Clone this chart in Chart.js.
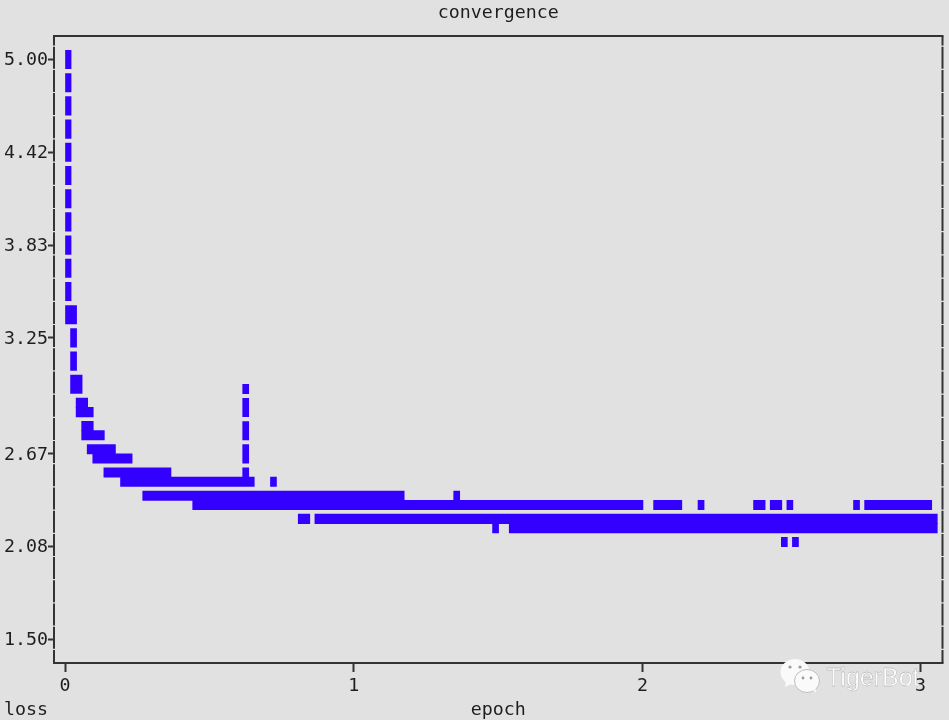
<!DOCTYPE html>
<html>
<head>
<meta charset="utf-8">
<title>convergence</title>
<script src="https://cdn.jsdelivr.net/npm/chart.js@4"></script>
<style>
    html, body { margin: 0; padding: 0; background: #e1e1e1; overflow: hidden; }
    #wrap { position: relative; width: 949px; height: 720px; }
    #mark { position: absolute; left: 778px; top: 656px; width: 160px; height: 40px; }
</style>
</head>
<body>
<div id="wrap">
    <canvas id="chart" width="949" height="720"></canvas>
    <svg id="mark" viewBox="0 0 160 40">
        <ellipse cx="17" cy="16" rx="14.5" ry="13" fill="#fafafa"/>
        <path d="M8 24 L7 31 L15 27 Z" fill="#fafafa"/>
        <ellipse cx="29" cy="25" rx="12.5" ry="11.5" fill="#fafafa" stroke="#bdbdbd" stroke-width="1"/>
        <path d="M34 33 L38 37 L37 30 Z" fill="#fafafa"/>
        <circle cx="12" cy="11" r="1.6" fill="#9a9a9a"/>
        <circle cx="22" cy="11" r="1.6" fill="#9a9a9a"/>
        <circle cx="25" cy="22" r="1.4" fill="#9a9a9a"/>
        <circle cx="33" cy="22" r="1.4" fill="#9a9a9a"/>
        <text x="48" y="30" font-family="'Liberation Sans', sans-serif" font-size="25" fill="#fdfdfd" stroke="#a0a0a0" stroke-width="0.3">TigerBot</text>
    </svg>
</div>
<script>
// tick rows of the text plot, labels are what the picture prints
const xTickValues = [0, 1, 2, 2.963];
const xTickLabels = ['0', '1', '2', '3'];
const yTickValues = [5, 4.44, 3.88, 3.32, 2.62, 2.06, 1.5];
const yTickLabels = ['5.00', '4.42', '3.83', '3.25', '2.67', '2.08', '1.50'];

// whole character cells
const fullLoss = [5, 4.86, 4.72, 4.58, 4.44, 4.3, 4.16, 4.02, 3.88, 3.74, 3.6, 3.46, 3.32, 3.18, 3.04, 2.9, 2.76, 2.62];
const fullStart = [0, 0, 0, 0, 0, 0, 0, 0, 0, 0, 0, 0, 0.0192, 0.0192, 0.0192, 0.6154, 0.6154, 0.6154];
const fullEnd = [0.021, 0.021, 0.021, 0.021, 0.021, 0.021, 0.021, 0.021, 0.021, 0.021, 0.021, 0.0401, 0.0401, 0.0401, 0.0593, 0.6362, 0.6362, 0.6362];

// half character cells
const halfLoss = [3.012, 2.928, 2.872, 2.788, 2.732, 2.648, 2.592, 2.508, 2.508, 2.452, 2.452,
    2.368, 2.368, 2.312, 2.312, 2.312, 2.312, 2.312, 2.312, 2.312, 2.312,
    2.228, 2.228, 2.172, 2.172, 2.088, 2.088];
const halfStart = [0.6154, 0.0385, 0.0385, 0.0577, 0.0577, 0.0769, 0.0962, 0.1346, 0.6154, 0.1923, 0.7115,
    0.2692, 1.3461, 0.4423, 2.0384, 2.1922, 2.3845, 2.4422, 2.4999, 2.7307, 2.7691,
    0.8077, 0.8654, 1.4807, 1.5384, 2.4807, 2.5191];
const halfEnd = [0.6362, 0.0785, 0.0978, 0.0978, 0.1362, 0.1747, 0.2324, 0.367, 0.6362, 0.6554, 0.7323,
    1.1746, 1.3669, 2.0015, 2.1361, 2.2131, 2.4246, 2.4823, 2.5207, 2.7515, 3.0015,
    0.8477, 3.0207, 1.5015, 3.0207, 2.5015, 2.54];

const monoFont = "'DejaVu Sans Mono', monospace";
const fontSize = 18.3;
const inkColor = '#1e1e1e';
const barColor = '#3300ff';

const toBars = (loss, start, end) => loss.map((v, i) => ({ y: v, x: [start[i], end[i]] }));

// terminal style frame and the "loss" label that sits in the bottom row
const framePlugin = {
    id: 'frame',
    afterDraw(chart) {
        const { ctx, chartArea: a } = chart;
        ctx.save();
        ctx.strokeStyle = '#333';
        ctx.lineWidth = 2;
        ctx.beginPath();
        ctx.moveTo(a.left - 1, a.top);
        ctx.lineTo(a.right + 1, a.top);
        ctx.moveTo(a.left - 1, a.bottom);
        ctx.lineTo(a.right + 1, a.bottom);
        ctx.stroke();
        ctx.setLineDash([22, 1.2]);
        ctx.lineDashOffset = 12.5;
        ctx.beginPath();
        ctx.moveTo(a.left, a.top);
        ctx.lineTo(a.left, a.bottom);
        ctx.moveTo(a.right, a.top);
        ctx.lineTo(a.right, a.bottom);
        ctx.stroke();
        ctx.setLineDash([]);
        ctx.fillStyle = inkColor;
        ctx.font = fontSize + 'px ' + monoFont;
        ctx.textBaseline = 'middle';
        ctx.fillText('loss', 4, 710);
        ctx.restore();
    }
};

new Chart(document.getElementById('chart'), {
    type: 'bar',
    data: {
        datasets: [
            { label: 'loss', data: toBars(fullLoss, fullStart, fullEnd), backgroundColor: barColor, barThickness: 18.4 },
            { label: 'loss (half cell)', data: toBars(halfLoss, halfStart, halfEnd), backgroundColor: barColor, barThickness: 9.4 }
        ]
    },
    plugins: [framePlugin],
    options: {
        indexAxis: 'y',
        responsive: false,
        animation: false,
        grouped: false,
        layout: { padding: { left: 5, right: 6.5, top: 0, bottom: 0 } },
        plugins: {
            legend: { display: false },
            tooltip: { enabled: false },
            title: {
                display: true,
                text: 'convergence',
                fullSize: false,
                color: inkColor,
                font: { family: monoFont, size: fontSize, weight: 'normal', lineHeight: 1 },
                padding: { top: 4.5, bottom: 13.2 }
            }
        },
        scales: {
            x: {
                type: 'linear',
                min: -0.0381,
                max: 3.0388,
                border: { display: false },
                grid: { drawOnChartArea: false, tickLength: 9, tickColor: '#333', tickWidth: 2 },
                ticks: {
                    color: inkColor,
                    padding: 3.5,
                    maxRotation: 0,
                    autoSkip: false,
                    font: { family: monoFont, size: fontSize },
                    callback: (v, i) => xTickLabels[i]
                },
                afterBuildTicks: s => { s.ticks = xTickValues.map(v => ({ value: v })); },
                afterFit: s => { s.height = 57; },
                title: {
                    display: true,
                    text: 'epoch',
                    color: inkColor,
                    font: { family: monoFont, size: fontSize, lineHeight: 1 },
                    padding: { top: 0, bottom: 1 }
                }
            },
            y: {
                type: 'linear',
                offset: false,
                min: 1.3582,
                max: 5.1418,
                border: { display: false },
                grid: { offset: false, drawOnChartArea: false, tickLength: 6, tickColor: '#333', tickWidth: 2 },
                ticks: {
                    color: inkColor,
                    padding: 0,
                    labelOffset: 1,
                    autoSkip: false,
                    font: { family: monoFont, size: fontSize },
                    callback: (v, i) => yTickLabels[i]
                },
                afterBuildTicks: s => { s.ticks = yTickValues.map(v => ({ value: v })); },
                afterFit: s => { s.width = 49; }
            }
        }
    }
});
</script>
</body>
</html>
